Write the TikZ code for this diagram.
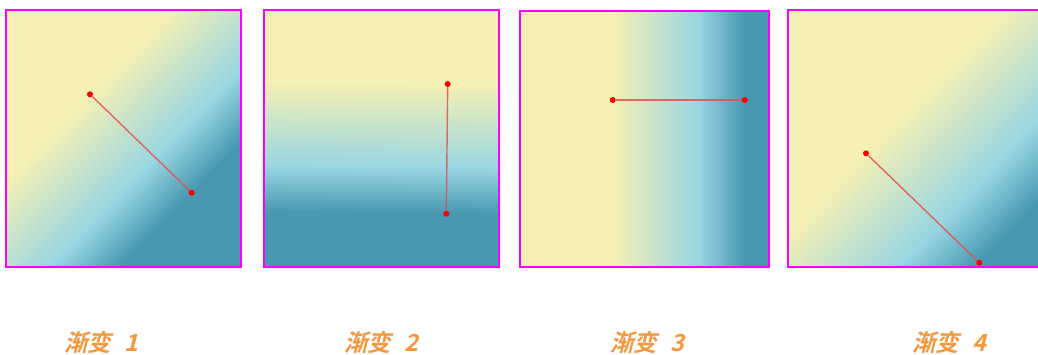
\documentclass[tikz,border=0pt]{standalone}
\usepackage{fontspec}
\newfontfamily\cjk{Noto Sans CJK SC Bold}[FakeSlant=0.25]
\definecolor{cYel}{RGB}{245,240,180}
\definecolor{cBlu}{RGB}{152,214,226}
\definecolor{cTeal}{RGB}{71,152,176}
\definecolor{cMag}{RGB}{255,0,255}
\definecolor{cLine}{RGB}{228,80,80}
\definecolor{cLab}{RGB}{244,152,62}
\pgfdeclarehorizontalshading{gradsh}{100bp}{color(0bp)=(cYel); color(47.222bp)=(cYel); color(50.833bp)=(cBlu); color(52.778bp)=(cTeal); color(100bp)=(cTeal)}
\tikzset{
  frame/.style={draw=cMag, line width=2pt},
  dotnode/.style={circle, fill=red, inner sep=0pt, minimum size=6pt},
  gline/.style={draw=cLine, line width=1.4pt, opacity=0.85},
  lab/.style={text=cLab, font=\cjk\fontsize{23.5}{26}\selectfont, inner sep=0pt},
}
\newcommand{\labtext}[1]{渐变\hspace{0.55em}#1}
\begin{document}
\begin{tikzpicture}[x=1pt,y=-1pt]
\useasboundingbox (0,0) rectangle (1038,354);
% square 1
\begin{scope}
  \clip (6,9.5) rectangle (241,267);
  \begin{scope}[transform canvas={shift={(90,94.3)}, rotate=-44.05, scale=141.5}]
    \shade[shading=gradsh] (-4,-4) rectangle (5,4);
  \end{scope}
\end{scope}
\draw[frame] (6,9.5) rectangle (241,267);
% square 2
\begin{scope}
  \clip (264,9.5) rectangle (499,267);
  \begin{scope}[transform canvas={shift={(447.7,84)}, rotate=-90.6, scale=129.7}]
    \shade[shading=gradsh] (-4,-4) rectangle (5,4);
  \end{scope}
\end{scope}
\draw[frame] (264,9.5) rectangle (499,267);
% square 3
\begin{scope}
  \clip (519.5,11) rectangle (768.5,267);
  \begin{scope}[transform canvas={shift={(612.7,100)}, rotate=0, scale=132}]
    \shade[shading=gradsh] (-4,-4) rectangle (5,4);
  \end{scope}
\end{scope}
\draw[frame] (519.5,11) rectangle (768.5,267);
% square 4
\begin{scope}
  \clip (787.5,10) rectangle (1045,266.5);
  \begin{scope}[transform canvas={shift={(866,153.3)}, rotate=-43.99, scale=157.5}]
    \shade[shading=gradsh] (-4,-4) rectangle (5,4);
  \end{scope}
\end{scope}
\draw[frame] (787.5,10) rectangle (1045,266.5);
% lines and dots
\node[dotnode] (a1) at (90,94.3) {};
\node[dotnode] (b1) at (191.7,192.7) {};
\node[dotnode] (a2) at (447.7,84) {};
\node[dotnode] (b2) at (446.3,213.7) {};
\node[dotnode] (a3) at (612.7,100) {};
\node[dotnode] (b3) at (744.7,100) {};
\node[dotnode] (a4) at (866,153.3) {};
\node[dotnode] (b4) at (979.3,262.7) {};
\draw[gline] (a1) -- (b1);
\draw[gline] (a2) -- (b2);
\draw[gline] (a3) -- (b3);
\draw[gline] (a4) -- (b4);
% labels
\node[lab] (l1) at (101,342.5) {\labtext{1}};
\node[lab] (l2) at (381,342.5) {\labtext{2}};
\node[lab] (l3) at (647,342.5) {\labtext{3}};
\node[lab] (l4) at (949,342.5) {\labtext{4}};
\end{tikzpicture}
\end{document}
